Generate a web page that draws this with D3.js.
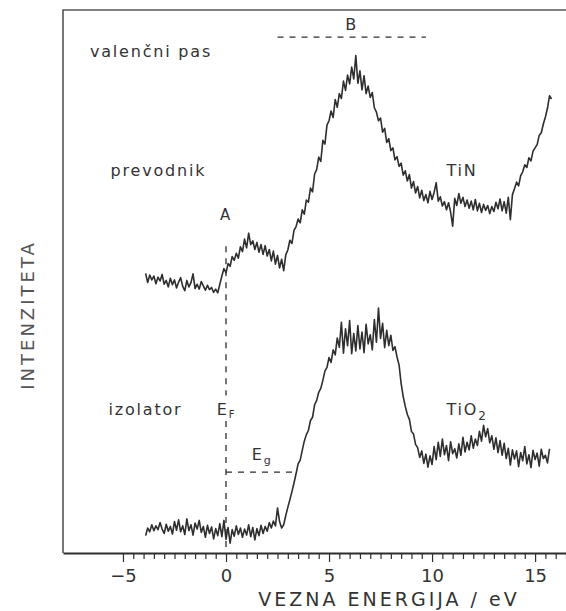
<!DOCTYPE html>
<html>
<head>
<meta charset="utf-8">
<script src="https://cdn.jsdelivr.net/npm/d3@7"></script>
<style>
  body { margin: 0; background: #fff; }
  text { font-family: "DejaVu Sans", sans-serif; fill: #333; }
</style>
</head>
<body>
<svg id="chart" width="566" height="611"></svg>
<script>
// Photoelectron valence band spectra, TiN (conductor) vs TiO2 (insulator).
// Intensities in arbitrary units (0 = axis, 100 = top frame).

const energyStart = -3.9;   // eV of the first sample
const energyStep = 0.1;     // eV between samples

const tinValues = [
  51.5, 49.8, 51.2, 50.3, 51.0, 49.6, 50.8, 50.1, 51.3, 49.5,
  50.2, 49.0, 50.6, 49.4, 50.3, 48.8, 49.9, 50.7, 49.1, 48.3,
  50.2, 49.0, 49.8, 51.4, 48.7, 49.5, 48.6, 50.0, 49.2, 48.4,
  49.3, 48.5, 48.9, 48.0, 48.6, 47.9, 49.5, 51.0, 52.4, 51.6,
  53.3, 52.8, 54.6, 53.9, 55.2, 54.3, 56.4, 55.5, 57.8, 56.2,
  58.9, 56.8, 57.5, 55.9, 57.2, 55.4, 56.8, 55.0, 56.6, 54.7,
  55.9, 53.8, 55.6, 53.2, 54.8, 52.5, 54.1, 52.0, 54.9, 55.8,
  57.6, 57.0, 59.4, 60.1, 61.5, 60.8, 63.2, 62.4, 65.0, 64.6,
  67.2, 66.5, 69.8, 70.6, 72.9, 72.1, 76.0, 75.3, 78.8, 79.6,
  81.4, 80.2, 83.5, 82.1, 84.6, 83.7, 86.9, 85.2, 88.0, 86.4,
  89.5, 87.3, 91.6, 86.5, 88.8, 85.3, 87.9, 84.6, 86.0, 83.9,
  84.8, 82.0, 81.2, 79.6, 80.1, 77.5, 78.2, 75.6, 76.3, 74.1,
  74.6, 72.4, 73.0, 71.2, 71.8, 69.6, 70.4, 68.5, 69.7, 67.2,
  68.4, 66.3, 67.5, 65.4, 66.8, 64.9, 66.0, 64.5, 66.6, 65.1,
  66.4, 68.2, 64.8, 65.6, 63.9, 64.7, 63.2, 64.5, 62.8, 60.2,
  65.3, 64.0, 66.2, 64.4, 65.5, 63.8, 65.0, 63.5, 64.8, 63.2,
  65.1, 63.0, 64.4, 62.7, 64.2, 63.1, 64.0, 62.5, 63.8, 62.9,
  64.6, 63.4, 65.2, 63.0, 64.7, 62.6, 65.5, 61.4, 66.0, 67.1,
  68.3, 67.6, 69.5, 70.2, 71.5, 71.0, 72.8, 72.2, 74.0, 74.6,
  75.2, 76.9, 77.4, 79.0, 80.3, 81.9, 84.2, 83.6
];

const tio2Values = [
  3.2, 4.6, 3.9, 5.2, 4.1, 5.0, 4.3, 5.6, 4.4, 3.6,
  5.3, 4.0, 4.9, 3.5, 5.8, 4.2, 6.1, 3.9, 5.0, 3.4,
  6.3, 4.1, 5.2, 3.3, 5.5, 4.4, 6.0, 3.8, 4.9, 2.9,
  5.1, 3.6, 4.8, 2.6, 4.5, 3.2, 5.4, 3.0, 6.0, 2.5,
  4.7, 1.8, 4.3, 3.1, 5.0, 3.4, 4.6, 2.9, 4.4, 3.3,
  5.2, 3.0, 4.7, 2.4, 4.5, 3.2, 5.1, 3.6, 4.9, 4.0,
  5.6, 4.6, 5.9, 5.0, 8.3, 5.8, 4.6, 5.2, 6.9, 8.4,
  9.8, 11.3, 12.9, 14.6, 16.4, 17.1, 18.9, 20.6, 21.8, 22.6,
  24.4, 25.0, 27.3, 28.1, 29.6, 30.3, 31.8, 33.5, 34.2, 36.0,
  35.1, 37.4, 36.5, 39.6, 37.9, 42.5, 36.8, 41.3, 38.2, 42.8,
  36.7, 40.4, 37.2, 41.9, 37.6, 40.7, 36.9, 42.1, 38.5, 40.2,
  37.4, 43.0, 38.8, 45.1, 39.5, 42.3, 37.8, 41.0, 38.2, 40.1,
  37.3, 38.0, 36.1, 34.6, 31.2, 28.8, 27.0, 25.5, 24.6, 22.4,
  21.9, 20.0, 19.4, 17.6, 18.8, 16.5, 18.2, 15.8, 17.9, 16.3,
  19.6, 17.2, 20.4, 17.8, 21.0, 18.1, 19.8, 17.0, 20.5, 18.3,
  19.2, 17.5, 20.1, 18.0, 21.3, 18.6, 20.4, 19.0, 21.6, 19.3,
  21.0, 19.8, 22.4, 20.6, 23.5, 21.4, 22.9, 20.3, 21.6, 19.1,
  21.2, 18.5, 20.7, 18.0, 20.2, 17.4, 19.3, 16.2, 19.0, 17.3,
  18.8, 15.9, 18.5, 17.0, 19.6, 16.4, 18.1, 15.7, 18.9, 17.2,
  18.4, 16.0, 19.1, 17.4, 18.0, 16.6, 19.2
];

const majorTicks = [-5, 0, 5, 10, 15];
const tickLabels = ["\u22125", "0", "5", "10", "15"];

// annotation anchors in data units
const bandB = { from: 2.5, to: 9.7, level: 95.0 };
const gapLevel = 14.9;       // horizontal E_g marker
const gapEnd = 3.4;
const fermiTop = 56.5;       // top of the dashed E_F line
const fermiBreak = [29.0, 24.3]; // gap in the E_F line around its label

const svg = d3.select("#chart");
const width = +svg.attr("width");
const height = +svg.attr("height");
const margin = { top: 10, right: 0, bottom: 58, left: 63 };

const x = d3.scaleLinear()
  .domain([-7.91, 16.5])
  .range([margin.left, width - margin.right]);

const y = d3.scaleLinear()
  .domain([0, 100])
  .range([height - margin.bottom, margin.top]);

const ink = "#2e2e2e";

// frame: left and top edges
svg.append("path")
  .attr("d", `M${x.range()[0]},${y(0)}V${y(100)}H${x.range()[1]}`)
  .attr("fill", "none")
  .attr("stroke", "#555")
  .attr("stroke-width", 1.6);

// bottom axis with half-eV minor ticks
const tickVals = d3.range(-5, 16.51, 0.5);
const axis = d3.axisBottom(x)
  .tickValues(tickVals)
  .tickSize(6)
  .tickSizeOuter(0)
  .tickFormat(d => {
    const k = majorTicks.indexOf(d);
    return k >= 0 ? tickLabels[k] : "";
  });

const axisG = svg.append("g")
  .attr("transform", `translate(0,${y(0)})`)
  .call(axis);

axisG.select(".domain").attr("stroke", ink).attr("stroke-width", 1.8);
axisG.selectAll(".tick line")
  .attr("stroke", ink)
  .attr("stroke-width", 1.2)
  .attr("y2", d => majorTicks.includes(d) ? 9 : 6);
axisG.selectAll(".tick text")
  .attr("y", 16)
  .attr("fill", "#333")
  .attr("font-size", 18)
  .style("font-family", "DejaVu Sans, sans-serif");

svg.append("text")
  .attr("x", 389)
  .attr("y", 606)
  .attr("text-anchor", "middle")
  .attr("font-size", 19)
  .attr("letter-spacing", 3)
  .text("VEZNA ENERGIJA / eV");

svg.append("text")
  .attr("transform", `translate(34,${315}) rotate(-90)`)
  .attr("text-anchor", "middle")
  .attr("font-size", 18)
  .attr("letter-spacing", 3)
  .style("fill", "#555")
  .text("INTENZITETA");

// spectra
const line = d3.line()
  .x((d, i) => x(energyStart + i * energyStep))
  .y(d => y(d));

[tinValues, tio2Values].forEach(vals => {
  svg.append("path")
    .datum(vals)
    .attr("d", line)
    .attr("fill", "none")
    .attr("stroke", ink)
    .attr("stroke-width", 1.6)
    .attr("stroke-linejoin", "round");
});

// dashed guides
const dashed = (x1, y1, x2, y2) => svg.append("line")
  .attr("x1", x(x1)).attr("y1", y(y1))
  .attr("x2", x(x2)).attr("y2", y(y2))
  .attr("stroke", ink)
  .attr("stroke-width", 1.3)
  .attr("stroke-dasharray", "6,6");

dashed(0, fermiTop, 0, fermiBreak[0]);
dashed(0, fermiBreak[1], 0, 0);
dashed(0, gapLevel, gapEnd, gapLevel);
dashed(bandB.from, bandB.level, bandB.to, bandB.level);

// labels
const label = (ev, val, txt, size = 16, anchor = "start") => svg.append("text")
  .attr("x", x(ev))
  .attr("y", y(val))
  .attr("text-anchor", anchor)
  .attr("font-size", size)
  .attr("letter-spacing", 1.8)
  .text(txt);

label(6.1, 96.4, "B", 16, "middle");
label(-6.6, 91.3, "valenčni pas");
label(-5.6, 69.5, "prevodnik");
label(10.7, 69.5, "TiN");
label(0, 61.3, "A", 15, "middle");
label(-5.7, 25.4, "izolator");
label(10.7, 25.4, "TiO").append("tspan")
  .attr("font-size", 12)
  .attr("dy", 5)
  .text("2");
label(-0.45, 25.4, "E").append("tspan")
  .attr("font-size", 10)
  .attr("dy", 3)
  .text("F");
label(1.25, 17.2, "E").append("tspan")
  .attr("font-size", 11)
  .attr("dy", 4)
  .text("g");
</script>
</body>
</html>
